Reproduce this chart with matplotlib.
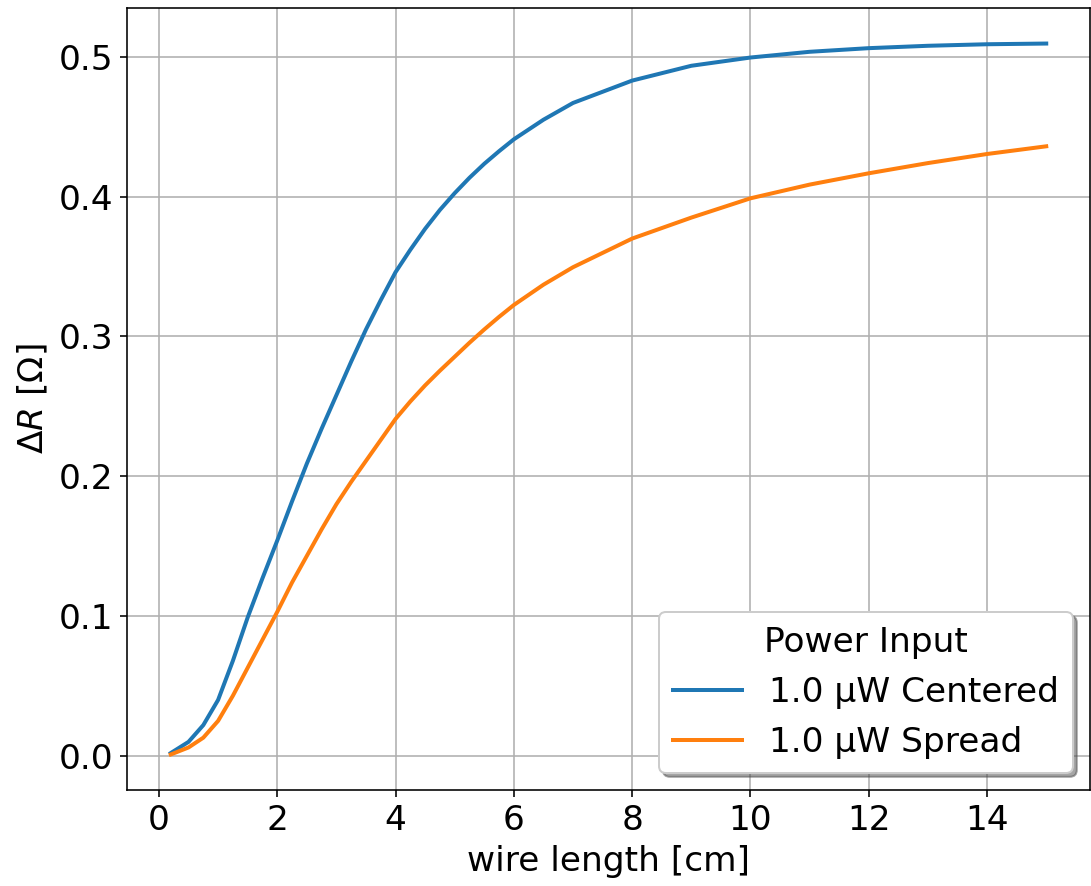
import matplotlib
matplotlib.use("Agg")
import matplotlib.pyplot as plt

# --------------------------------------------------------------
# Data
# --------------------------------------------------------------
wire_length = [0.2, 0.5, 0.75, 1.0, 1.25, 1.5, 1.75, 2.0, 2.25, 2.5, 2.75,
               3.0, 3.25, 3.5, 3.75, 4.0, 4.25, 4.5, 4.75, 5.0, 5.25, 5.5,
               5.75, 6.0, 6.5,
               7, 8, 9, 10, 11, 12, 13, 14, 15]

dR_centered = [0.002, 0.010, 0.022, 0.040, 0.068, 0.099, 0.127, 0.154, 0.182,
               0.209, 0.234, 0.258, 0.282, 0.305, 0.326, 0.346, 0.362, 0.377,
               0.3905, 0.4025, 0.4135, 0.4235, 0.4325, 0.441, 0.455,
               0.467, 0.483, 0.4936, 0.4995, 0.5036, 0.5062, 0.5079, 0.509, 0.5095]

dR_spread = [0.001, 0.006, 0.013, 0.025, 0.043, 0.063, 0.083, 0.103, 0.124,
             0.143, 0.162, 0.180, 0.196, 0.211, 0.226, 0.241, 0.2535, 0.265,
             0.2755, 0.2855, 0.2955, 0.305, 0.314, 0.3225, 0.337,
             0.3495, 0.370, 0.385, 0.3988, 0.4086, 0.4167, 0.424, 0.4305, 0.436]

labels = ["1.0 µW Centered", "1.0 µW Spread"]

# --------------------------------------------------------------
# Plot
# --------------------------------------------------------------
plt.rcParams['font.size'] = 17.2

fig, ax = plt.subplots(figsize=(1091 / 144, 886 / 144), dpi=144)
fig.subplots_adjust(left=127 / 1091, right=1090 / 1091, top=1 - 8 / 886, bottom=1 - 790 / 886)

ax.plot(wire_length, dR_centered, label=labels[0], color="tab:blue", lw=2)
ax.plot(wire_length, dR_spread, label=labels[1], color="tab:orange", lw=2)

ax.set_xlabel("wire length [cm]")
ax.set_ylabel(r"$\Delta R$ [$\Omega$]")
ax.grid(True)
ax.legend(title="Power Input", loc="lower right", fancybox=True, shadow=True)

plt.savefig("out.png", dpi=144)
